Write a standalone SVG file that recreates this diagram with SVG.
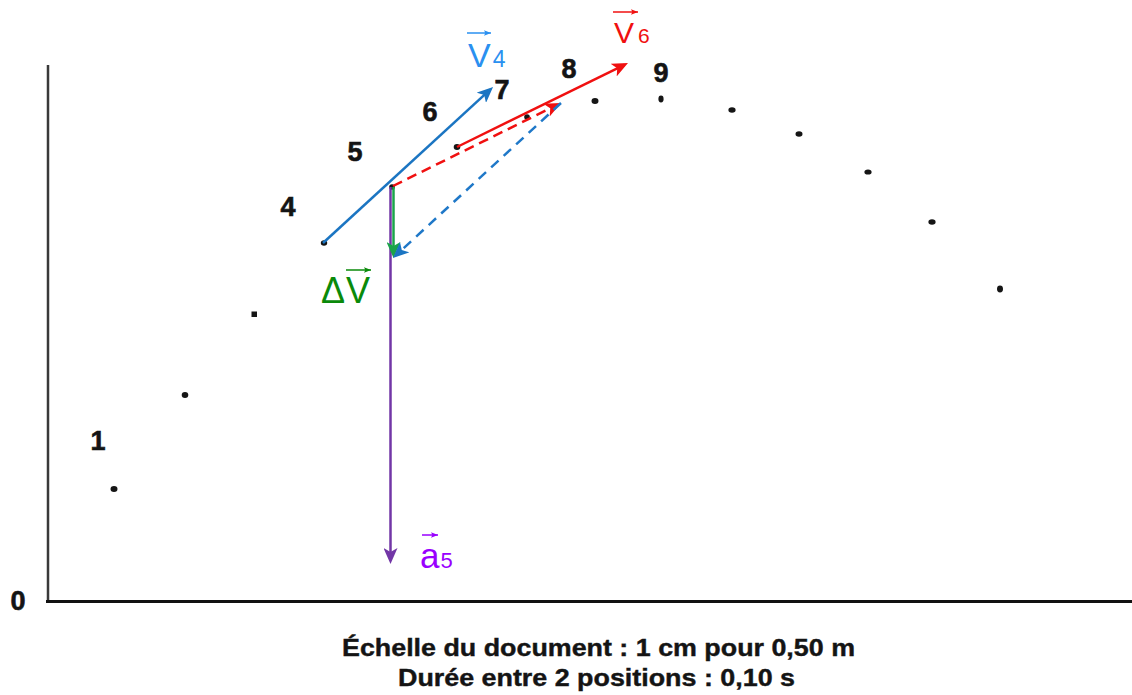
<svg xmlns="http://www.w3.org/2000/svg" width="1132" height="695" viewBox="0 0 1132 695">
<style>
.num{font-family:"Liberation Sans",Arial,sans-serif;font-weight:bold;font-size:27px;fill:#141414;text-anchor:middle;stroke:#141414;stroke-width:0.6}
.cap{font-family:"Liberation Sans",Arial,sans-serif;font-weight:bold;font-size:24px;fill:#141414;stroke:#141414;stroke-width:0.4}
.lbl{font-family:"Liberation Sans",Arial,sans-serif}
.dot{fill:#151515}
</style>
<defs>
<marker id="hBlue" viewBox="0 0 16 14" refX="12" refY="7" markerWidth="16" markerHeight="14" markerUnits="userSpaceOnUse" orient="auto"><path d="M0,0 L16,7 L0,14 L4,7 z" fill="#1b75c2"/></marker>
<marker id="hRed" viewBox="0 0 16 14" refX="12" refY="7" markerWidth="16" markerHeight="14" markerUnits="userSpaceOnUse" orient="auto"><path d="M0,0 L16,7 L0,14 L4,7 z" fill="#f01010"/></marker>
<marker id="hGreen" viewBox="0 0 16 14" refX="12" refY="7" markerWidth="16" markerHeight="14" markerUnits="userSpaceOnUse" orient="auto"><path d="M0,0 L16,7 L0,14 L4,7 z" fill="#1aa34a"/></marker>
<marker id="hPurple" viewBox="0 0 16 14" refX="12" refY="7" markerWidth="16" markerHeight="14" markerUnits="userSpaceOnUse" orient="auto"><path d="M0,0 L16,7 L0,14 L4,7 z" fill="#7236a6"/></marker>
<marker id="sBlue" viewBox="0 0 10 8" refX="10" refY="4" markerWidth="7" markerHeight="6" markerUnits="userSpaceOnUse" orient="auto"><path d="M0,0 L10,4 L0,8 L2,4 z" fill="#2a90f0"/></marker>
<marker id="sRed" viewBox="0 0 10 8" refX="10" refY="4" markerWidth="7" markerHeight="6" markerUnits="userSpaceOnUse" orient="auto"><path d="M0,0 L10,4 L0,8 L2,4 z" fill="#f01010"/></marker>
<marker id="sGreen" viewBox="0 0 10 8" refX="10" refY="4" markerWidth="7" markerHeight="6" markerUnits="userSpaceOnUse" orient="auto"><path d="M0,0 L10,4 L0,8 L2,4 z" fill="#0a8a0a"/></marker>
<marker id="sPurple" viewBox="0 0 10 8" refX="10" refY="4" markerWidth="7" markerHeight="6" markerUnits="userSpaceOnUse" orient="auto"><path d="M0,0 L10,4 L0,8 L2,4 z" fill="#9900ff"/></marker>
</defs>
<rect width="1132" height="695" fill="#ffffff"/>
<g id="axes">
<line x1="48" y1="65" x2="48" y2="602" stroke="#3a3a3a" stroke-width="2.5"/>
<line x1="46" y1="601.5" x2="1132" y2="601.5" stroke="#111" stroke-width="3"/>
<text class="num" x="18" y="610">0</text>
</g>
<g id="positions">
<ellipse class="dot" cx="114" cy="489" rx="3.5" ry="3"/>
<ellipse class="dot" cx="185" cy="395" rx="3.3" ry="3"/>
<rect class="dot" x="251.5" y="311.5" width="5.5" height="5.5"/>
<ellipse class="dot" cx="324" cy="243" rx="3.2" ry="2.8"/>
<ellipse class="dot" cx="392" cy="187" rx="2.8" ry="2.8"/>
<ellipse class="dot" cx="457" cy="147" rx="3.3" ry="3"/>
<ellipse class="dot" cx="527" cy="117" rx="2.8" ry="2.8"/>
<ellipse class="dot" cx="595" cy="101" rx="3.5" ry="3"/>
<ellipse class="dot" cx="661" cy="99" rx="2.6" ry="3.4"/>
<ellipse class="dot" cx="732" cy="110" rx="3.6" ry="2.8"/>
<ellipse class="dot" cx="799" cy="134" rx="3.5" ry="2.8"/>
<ellipse class="dot" cx="868" cy="172" rx="3.6" ry="2.6"/>
<ellipse class="dot" cx="932" cy="222" rx="3.6" ry="2.8"/>
<ellipse class="dot" cx="1000" cy="289" rx="3" ry="3.4"/>
</g>
<g id="position-labels">
<text class="num" x="98" y="450">1</text>
<text class="num" x="288" y="216">4</text>
<text class="num" x="355" y="161">5</text>
<text class="num" x="430" y="121">6</text>
<text class="num" x="502" y="99">7</text>
<text class="num" x="569" y="78">8</text>
<text class="num" x="661" y="82">9</text>
</g>
<g id="connectors" fill="none">
<line x1="390.5" y1="187" x2="390.5" y2="560" stroke="#7236a6" stroke-width="2.5" marker-end="url(#hPurple)"/>
<line x1="393.5" y1="187" x2="393.5" y2="254" stroke="#1aa34a" stroke-width="2.5" marker-end="url(#hGreen)"/>
<line x1="323" y1="243" x2="490.1" y2="89.7" stroke="#1b75c2" stroke-width="2.5" marker-end="url(#hBlue)"/>
<line x1="457" y1="147" x2="624.4" y2="64.8" stroke="#f01010" stroke-width="2.5" marker-end="url(#hRed)"/>
<line x1="393" y1="186" x2="557.4" y2="104.8" stroke="#f01010" stroke-width="2.5" stroke-dasharray="10 6" marker-end="url(#hRed)"/>
<line x1="561" y1="103" x2="395.9" y2="255.3" stroke="#1f78c8" stroke-width="2.5" stroke-dasharray="10 7" marker-end="url(#hBlue)"/>
</g>
<g id="label-v4">
<text class="lbl" x="468" y="67" font-size="34" fill="#2a90f0">V<tspan font-size="23" dx="2">4</tspan></text>
<line x1="467" y1="33" x2="491" y2="33" stroke="#2a90f0" stroke-width="1.5" marker-end="url(#sBlue)"/>
</g>
<g id="label-v6">
<text class="lbl" x="614" y="43" font-size="30" fill="#f01010">V<tspan font-size="21" dx="4">6</tspan></text>
<line x1="613" y1="12" x2="638" y2="12" stroke="#f01010" stroke-width="1.5" marker-end="url(#sRed)"/>
</g>
<g id="label-dv">
<text class="lbl" x="321" y="303" font-size="36" fill="#0a8a0a">Δ<tspan dx="1">V</tspan></text>
<line x1="346" y1="270" x2="371" y2="270" stroke="#0a8a0a" stroke-width="1.5" marker-end="url(#sGreen)"/>
</g>
<g id="label-a5">
<text class="lbl" x="420" y="568" font-size="35" fill="#9900ff">a<tspan font-size="22" dx="1">5</tspan></text>
<line x1="422" y1="535" x2="438" y2="535" stroke="#9900ff" stroke-width="1.5" marker-end="url(#sPurple)"/>
</g>
<g id="caption">
<text class="cap" x="342" y="656" textLength="513" lengthAdjust="spacingAndGlyphs">Échelle du document : 1 cm pour 0,50 m</text>
<text class="cap" x="398" y="686" textLength="397" lengthAdjust="spacingAndGlyphs">Durée entre 2 positions : 0,10 s</text>
</g>
</svg>
